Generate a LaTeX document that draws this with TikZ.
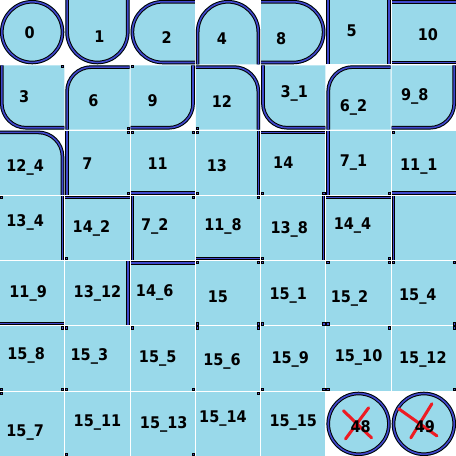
\documentclass[tikz,border=0pt]{standalone}
\usepackage{fontspec}
\newfontfamily\tilefont[FakeStretch=0.9]{DejaVu Sans}
\definecolor{tileblue}{HTML}{99D9EA}
\definecolor{rimblue}{HTML}{3F48CC}
\definecolor{strikered}{HTML}{ED1C24}

\begin{document}
\begin{tikzpicture}[x=1pt,y=1pt,yscale=-1,
 cell/.style 2 args={shift={(65*#1+1,65*#2+1)}},
 tilefill/.style={fill=tileblue},
 rim/.style={draw=rimblue,line width=1.6pt,preaction={draw=black,line width=3.6pt}},
 nick/.style={fill=rimblue,draw=black,line width=0.8pt},
 lab/.style={font=\tilefont\bfseries\fontsize{16}{18}\selectfont,anchor=base,inner sep=0pt},
 strike/.style={draw=strikered,line width=3pt,line cap=round}]
\path[use as bounding box,fill=white] (1,1) rectangle (455,455);
\fill[tilefill,cell={0}{0}] (32,32) circle[radius=32];
\fill[tilefill,cell={1}{0}] (0,0) -- (0,32) arc[start angle=180,end angle=0,radius=32] -- (64,0) -- cycle;
\fill[tilefill,cell={2}{0}] (64,0) -- (32,0) arc[start angle=270,end angle=90,radius=32] -- (64,64) -- cycle;
\fill[tilefill,cell={3}{0}] (0,64) -- (0,32) arc[start angle=180,end angle=360,radius=32] -- (64,64) -- cycle;
\fill[tilefill,cell={4}{0}] (0,0) -- (32,0) arc[start angle=-90,end angle=90,radius=32] -- (0,64) -- cycle;
\foreach \c/\r in {0/1,4/1}
  \fill[tilefill,cell={\c}{\r}] (64,0) -- (0,0) -- (0,38) arc[start angle=180,end angle=90,radius=26] -- (64,64) -- cycle;
\foreach \c/\r in {1/1,5/1}
  \fill[tilefill,cell={\c}{\r}] (64,0) -- (26,0) arc[start angle=270,end angle=180,radius=26] -- (0,64) -- (64,64) -- cycle;
\foreach \c/\r in {2/1,6/1}
  \fill[tilefill,cell={\c}{\r}] (0,0) -- (64,0) -- (64,38) arc[start angle=0,end angle=90,radius=26] -- (0,64) -- cycle;
\foreach \c/\r in {3/1,0/2}
  \fill[tilefill,cell={\c}{\r}] (0,0) -- (38,0) arc[start angle=270,end angle=360,radius=26] -- (64,64) -- (0,64) -- cycle;
\foreach \c/\r in {5/0,6/0,1/2,2/2,3/2,4/2,5/2,6/2,0/6,1/6,2/6,3/6,4/6}
  \fill[tilefill,cell={\c}{\r}] (0,0) rectangle (64,64);
\foreach \r in {3,4,5}
  \foreach \c in {0,...,6}
    \fill[tilefill,cell={\c}{\r}] (0,0) rectangle (64,64);
\foreach \c in {5,6}
  \fill[tilefill,cell={\c}{6}] (32,32) circle[radius=32];

\draw[rim,cell={0}{0}] (32,32) circle[radius=30.2];
\draw[rim,cell={1}{0}] (1.8,0) -- (1.8,32) arc[start angle=180,end angle=0,radius=30.2] -- (62.2,0);
\draw[rim,cell={2}{0}] (64,1.8) -- (32,1.8) arc[start angle=270,end angle=90,radius=30.2] -- (64,62.2);
\draw[rim,cell={3}{0}] (1.8,64) -- (1.8,32) arc[start angle=180,end angle=360,radius=30.2] -- (62.2,64);
\draw[rim,cell={4}{0}] (0,1.8) -- (32,1.8) arc[start angle=-90,end angle=90,radius=30.2] -- (0,62.2);
\foreach \c/\r in {0/1,4/1}
  \draw[rim,cell={\c}{\r}] (1.8,0) -- (1.8,38) arc[start angle=180,end angle=90,radius=24.2] -- (64,62.2);
\foreach \c/\r in {1/1,5/1}
  \draw[rim,cell={\c}{\r}] (64,1.8) -- (26,1.8) arc[start angle=270,end angle=180,radius=24.2] -- (1.8,64);
\foreach \c/\r in {2/1,6/1}
  \draw[rim,cell={\c}{\r}] (62.2,0) -- (62.2,38) arc[start angle=0,end angle=90,radius=24.2] -- (0,62.2);
\foreach \c/\r in {3/1,0/2}
  \draw[rim,cell={\c}{\r}] (0,1.8) -- (38,1.8) arc[start angle=270,end angle=360,radius=24.2] -- (62.2,64);
\foreach \c/\r in {5/0,1/2,5/2,2/3,6/3}
  \draw[rim,cell={\c}{\r}] (1.8,0) -- (1.8,64);
\foreach \c/\r in {5/0,3/2,0/3,4/3,1/4}
  \draw[rim,cell={\c}{\r}] (62.2,0) -- (62.2,64);
\foreach \c/\r in {6/0,4/2,1/3,5/3,2/4}
  \draw[rim,cell={\c}{\r}] (0,1.8) -- (64,1.8);
\foreach \c/\r in {6/0,2/2,6/2,3/3,0/4}
  \draw[rim,cell={\c}{\r}] (0,62.2) -- (64,62.2);
\foreach \c in {5,6}
  \draw[rim,cell={\c}{6}] (32,32) circle[radius=30.2];

\foreach \c/\r/\u/\v in {0/1/61/0,1/1/61/61,2/1/0/0,3/1/0/61,
  1/2/61/0,1/2/61/61,2/2/0/0,2/2/61/0,3/2/0/0,3/2/0/61,4/2/0/61,4/2/61/61,5/2/61/61,6/2/0/0,
  0/3/0/0,1/3/0/61,2/3/61/0,3/3/61/0,4/3/0/61,5/3/61/61,
  3/4/0/0,3/4/61/0,3/4/61/61,3/4/0/61,4/4/61/61,4/4/0/61,4/4/0/0,
  5/4/61/0,5/4/0/61,5/4/0/0,6/4/61/0,6/4/61/61,6/4/0/0,
  0/5/61/0,0/5/61/61,0/5/0/61,1/5/0/61,1/5/0/0,2/5/61/61,2/5/0/0,3/5/61/0,3/5/0/0,
  4/5/61/61,4/5/0/61,5/5/61/0,5/5/0/61,6/5/61/0,6/5/61/61,
  0/6/0/0,1/6/0/61,2/6/61/61,3/6/61/0}
  \draw[nick,cell={\c}{\r}] (\u+0.4,\v+0.4) rectangle +(2.2,2.2);

\draw[strike] (343,410) -- (371,437) (368,407) -- (345,438);
\draw[strike] (398,408) -- (436,435) (431,403) -- (410,437);

\node[lab] (t0) at (30.5,39) {0};
\node[lab] (t1) at (100,43) {1};
\node[lab] (t2) at (167,44) {2};
\node[lab] (t4) at (222,45) {4};
\node[lab] (t8) at (281,45) {8};
\node[lab] (t5) at (351,37) {5};
\node[lab] (t10) at (427,41) {10};
\node[lab] (t3) at (25,103) {3};
\node[lab] (t6) at (94,107) {6};
\node[lab] (t9) at (153,107) {9};
\node[lab] (t12) at (222,108) {12};
\node[lab] (t3_1) at (294,98) {3\_1};
\node[lab] (t6_2) at (353,112) {6\_2};
\node[lab] (t9_8) at (414,101) {9\_8};
\node[lab] (t12_4) at (26,172) {12\_4};
\node[lab] (t7) at (88,170) {7};
\node[lab] (t11) at (158,170) {11};
\node[lab] (t13) at (217,172) {13};
\node[lab] (t14) at (283,169) {14};
\node[lab] (t7_1) at (353,167) {7\_1};
\node[lab] (t11_1) at (418,171) {11\_1};
\node[lab] (t13_4) at (26,227) {13\_4};
\node[lab] (t14_2) at (92,232) {14\_2};
\node[lab] (t7_2) at (155,230) {7\_2};
\node[lab] (t11_8) at (223,230) {11\_8};
\node[lab] (t13_8) at (289,233) {13\_8};
\node[lab] (t14_4) at (352,229) {14\_4};
\node[lab] (t11_9) at (29,297) {11\_9};
\node[lab] (t13_12) at (98,297) {13\_12};
\node[lab] (t14_6) at (155,296) {14\_6};
\node[lab] (t15) at (218,302) {15};
\node[lab] (t15_1) at (288,299) {15\_1};
\node[lab] (t15_2) at (349,302) {15\_2};
\node[lab] (t15_4) at (417,300) {15\_4};
\node[lab] (t15_8) at (27,359) {15\_8};
\node[lab] (t15_3) at (90,360) {15\_3};
\node[lab] (t15_5) at (158,362) {15\_5};
\node[lab] (t15_6) at (222,365) {15\_6};
\node[lab] (t15_9) at (290,363) {15\_9};
\node[lab] (t15_10) at (358,361) {15\_10};
\node[lab] (t15_12) at (422,363) {15\_12};
\node[lab] (t15_7) at (26,436) {15\_7};
\node[lab] (t15_11) at (98,426) {15\_11};
\node[lab] (t15_13) at (164,428) {15\_13};
\node[lab] (t15_14) at (223,422) {15\_14};
\node[lab] (t15_15) at (293,426) {15\_15};
\node[lab] (t48) at (360,432) {48};
\node[lab] (t49) at (424,432) {49};
\end{tikzpicture}
\end{document}
